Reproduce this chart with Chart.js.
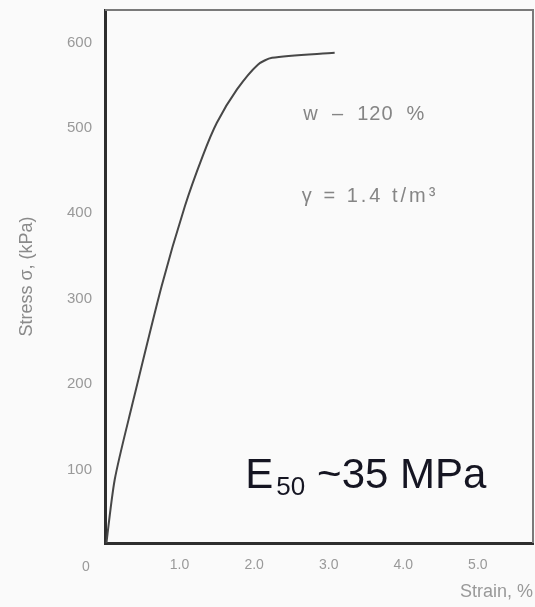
<!DOCTYPE html>
<html>
<head>
<meta charset="utf-8">
<script src="https://cdn.jsdelivr.net/npm/chart.js@4.4.1/dist/chart.umd.min.js"></script>
<style>
html,body{margin:0;padding:0;background:#fafafa;}
#wrap{width:535px;height:607px;position:relative;}
</style>
</head>
<body>
<div id="wrap"><canvas id="c" width="535" height="607"></canvas></div>
<script>
// Strain (%) and stress (kPa)
const strain = [0, 0.13, 0.36, 0.76, 1.07, 1.31, 1.50, 1.77, 2.05, 2.24, 3.08];
const stress = [0, 88, 174, 315, 408, 467, 506, 545, 574, 582, 588];
const xTicks = [1, 2, 3, 4, 5];
const yTicks = [100, 200, 300, 400, 500, 600];
const notes = [
  {text: 'w  –  120  %', x: 2.66, y: 516, spacing: 1},
  {text: 'γ = 1.4 t/m³', x: 2.64, y: 420, spacing: 3}
];

const points = strain.map((s, i) => ({x: s, y: stress[i]}));
const FONT = '"Liberation Sans", Arial, sans-serif';

const deco = {
  id: 'deco',
  afterDraw(chart) {
    const {ctx, chartArea: a, scales: {x, y}} = chart;
    ctx.save();
    // top and right frame
    ctx.strokeStyle = '#7a7a7a';
    ctx.lineWidth = 2;
    ctx.beginPath();
    ctx.moveTo(a.left, a.top); ctx.lineTo(a.right, a.top); ctx.lineTo(a.right, a.bottom);
    ctx.stroke();
    // origin label
    ctx.fillStyle = '#999';
    ctx.font = '14px ' + FONT;
    ctx.textAlign = 'center';
    ctx.textBaseline = 'middle';
    ctx.fillText('0', x.getPixelForValue(0) - 19, a.bottom + 24);
    // notes
    ctx.textAlign = 'left';
    ctx.textBaseline = 'middle';
    ctx.font = '20px ' + FONT;
    ctx.fillStyle = '#858585';
    notes.forEach(n => {
      if ('letterSpacing' in ctx) ctx.letterSpacing = n.spacing + 'px';
      ctx.fillText(n.text, x.getPixelForValue(n.x), y.getPixelForValue(n.y));
    });
    if ('letterSpacing' in ctx) ctx.letterSpacing = '0px';
    // E50 label
    let px = x.getPixelForValue(1.88), py = y.getPixelForValue(78);
    ctx.textBaseline = 'alphabetic';
    ctx.fillStyle = '#151522';
    ctx.font = '42px ' + FONT;
    ctx.fillText('E', px, py);
    px += ctx.measureText('E').width + 3;
    ctx.font = '26px ' + FONT;
    ctx.fillText('50', px, py + 7);
    px += ctx.measureText('50').width + 12;
    ctx.font = '42px ' + FONT;
    ctx.fillText('~35 MPa', px, py);
    ctx.restore();
  }
};

new Chart(document.getElementById('c'), {
  type: 'scatter',
  data: {
    datasets: [{
      data: points,
      showLine: true,
      borderColor: '#474747',
      borderWidth: 2,
      pointRadius: 0,
      tension: 0.25,
      fill: false
    }]
  },
  options: {
    responsive: false,
    animation: false,
    layout: {padding: {top: 10, right: 2, left: 0, bottom: 0}},
    plugins: {legend: {display: false}, tooltip: {enabled: false}},
    scales: {
      x: {
        type: 'linear', min: 0, max: 5.74,
        afterBuildTicks: s => { s.ticks = xTicks.map(v => ({value: v})); },
        ticks: {color: '#999', font: {size: 14, family: FONT}, padding: 14,
                callback: v => v.toFixed(1), maxRotation: 0},
        grid: {display: false, drawTicks: false},
        border: {display: true, color: '#2e2e2e', width: 3},
        title: {display: true, text: 'Strain, %', align: 'end', color: '#999',
                font: {size: 18, family: FONT}, padding: {top: 0}},
        afterFit: s => { s.height = 64; s.paddingLeft = 0; s.paddingRight = 0; }
      },
      y: {
        type: 'linear', min: 14, max: 638,
        afterBuildTicks: s => { s.ticks = yTicks.map(v => ({value: v})); },
        ticks: {color: '#999', font: {size: 15, family: FONT}, padding: 13},
        grid: {display: false, drawTicks: false},
        border: {display: true, color: '#2e2e2e', width: 3},
        title: {display: true, text: 'Stress σ, (kPa)', color: '#8a8a8a',
                font: {size: 18, family: FONT}, padding: {top: 16, bottom: 0}},
        afterFit: s => { s.width = 105; s.paddingTop = 0; s.paddingBottom = 0; }
      }
    }
  },
  plugins: [deco]
});
</script>
</body>
</html>
